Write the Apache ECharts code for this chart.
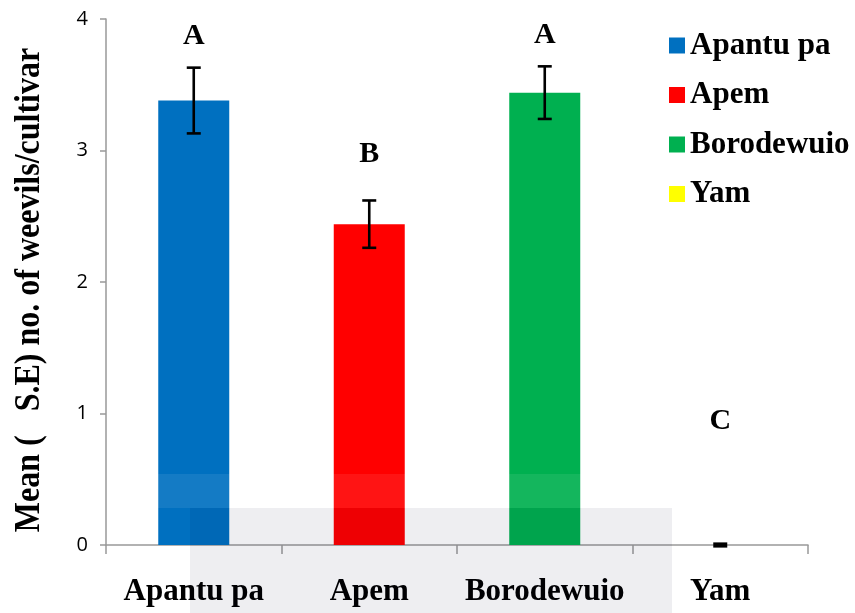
<!DOCTYPE html>
<html>
<head>
<meta charset="utf-8">
<script src="https://cdn.jsdelivr.net/npm/echarts@6/dist/echarts.min.js"></script>
<style>
  html, body { margin: 0; padding: 0; background: #fff; }
  #chart { width: 855px; height: 613px; }
</style>
</head>
<body>
<div id="chart"></div>
<script>
// data
const cultivars = ['Apantu pa', 'Apem', 'Borodewuio', 'Yam'];
const means = [3.38, 2.44, 3.44, 0];
const stdErr = [0.25, 0.18, 0.20, 0.01];
const letters = ['A', 'B', 'A', 'C'];
const letterY = [3.87, 2.97, 3.88, 0.94];
const yTicks = [0, 1, 2, 3, 4];
const colors = ['#0070c0', '#ff0000', '#00b050', '#ffff00'];
const yTitle = 'Mean (   S.E) no. of weevils/cultivar';

const serif = '"Liberation Serif", "Times New Roman", serif';

let chart = echarts.init(document.getElementById('chart'));

// one bar series per cultivar so the legend shows each colour
let barSeries = cultivars.map((name, i) => ({
  name: name,
  type: 'bar',
  barWidth: 71,
  barGap: '-100%',
  itemStyle: { color: colors[i] },
  data: cultivars.map((c, j) => (j === i ? means[j] : '-'))
}));

// error bars
let errSeries = {
  type: 'custom',
  name: 'err',
  z: 10,
  data: cultivars.map((c, i) => [i, means[i] - stdErr[i], means[i] + stdErr[i]]),
  renderItem: function (params, api) {
    let lo = api.coord([api.value(0), api.value(1)]);
    let hi = api.coord([api.value(0), api.value(2)]);
    let half = 7;
    let style = { stroke: '#000', lineWidth: 2.6 };
    return {
      type: 'group',
      children: [
        { type: 'line', shape: { x1: hi[0], y1: hi[1], x2: lo[0], y2: lo[1] }, style: style },
        { type: 'line', shape: { x1: hi[0] - half, y1: hi[1], x2: hi[0] + half, y2: hi[1] }, style: style },
        { type: 'line', shape: { x1: lo[0] - half, y1: lo[1], x2: lo[0] + half, y2: lo[1] }, style: style }
      ]
    };
  }
};

// significance letters
let letterSeries = {
  type: 'custom',
  name: 'letters',
  z: 11,
  data: cultivars.map((c, i) => [i, letterY[i]]),
  renderItem: function (params, api) {
    let p = api.coord([api.value(0), api.value(1)]);
    return {
      type: 'text',
      x: p[0],
      y: p[1],
      style: {
        text: letters[params.dataIndex],
        fill: '#000',
        font: 'bold 30px ' + serif,
        align: 'center',
        verticalAlign: 'middle'
      }
    };
  }
};

let option = {
  animation: false,
  backgroundColor: '#fff',
  grid: { left: 106, right: 47, top: 19, bottom: 68 },
  legend: {
    orient: 'vertical',
    left: 664,
    top: 25,
    icon: 'rect',
    itemWidth: 16,
    itemHeight: 16,
    itemGap: 18.5,
    data: cultivars,
    textStyle: {
      color: '#000',
      fontFamily: serif,
      fontWeight: 'bold',
      fontSize: 31,
      lineHeight: 30
    }
  },
  xAxis: {
    type: 'category',
    data: cultivars,
    axisLine: { lineStyle: { color: '#999', width: 1.5 } },
    axisTick: { show: true, length: 9, lineStyle: { color: '#999', width: 1.5 } },
    axisLabel: {
      interval: 0,
      hideOverlap: false,
      color: '#000',
      fontFamily: serif,
      fontWeight: 'bold',
      fontSize: 31,
      margin: 31
    }
  },
  yAxis: {
    type: 'value',
    min: yTicks[0],
    max: yTicks[yTicks.length - 1],
    interval: 1,
    splitLine: { show: false },
    axisLine: { show: true, lineStyle: { color: '#999', width: 1.5 } },
    axisTick: { show: true, length: 6, lineStyle: { color: '#999', width: 1.5 } },
    axisLabel: {
      color: '#000',
      fontFamily: '"Open Sans", "DejaVu Sans", sans-serif',
      fontSize: 20,
      margin: 18
    }
  },
  series: barSeries.concat([errSeries, letterSeries])
};

chart.setOption(option);

// axis title: the source figure is stretched sideways, so it is drawn as
// scaled text centred on the value axis
let yMid = (chart.convertToPixel({ yAxisIndex: 0 }, yTicks[0]) +
            chart.convertToPixel({ yAxisIndex: 0 }, yTicks[yTicks.length - 1])) / 2;
let graphics = [{
  type: 'text',
  x: 29,
  y: yMid + 8,
  rotation: Math.PI / 2,
  scaleY: 1.15,
  style: {
    text: yTitle,
    fill: '#000',
    font: 'bold 32px ' + serif,
    align: 'center',
    verticalAlign: 'middle'
  }
}];

// faint watermark bands over the lower part of the figure
graphics.push({
  type: 'rect',
  z: 100,
  silent: true,
  shape: { x: 150, y: 474, width: 530, height: 34 },
  style: { fill: 'rgba(255,255,255,0.08)' }
});
graphics.push({
  type: 'rect',
  z: 100,
  silent: true,
  shape: { x: 190, y: 508, width: 482, height: 105 },
  style: { fill: 'rgba(0,0,40,0.065)' }
});

chart.setOption({ graphic: graphics });
</script>
</body>
</html>
